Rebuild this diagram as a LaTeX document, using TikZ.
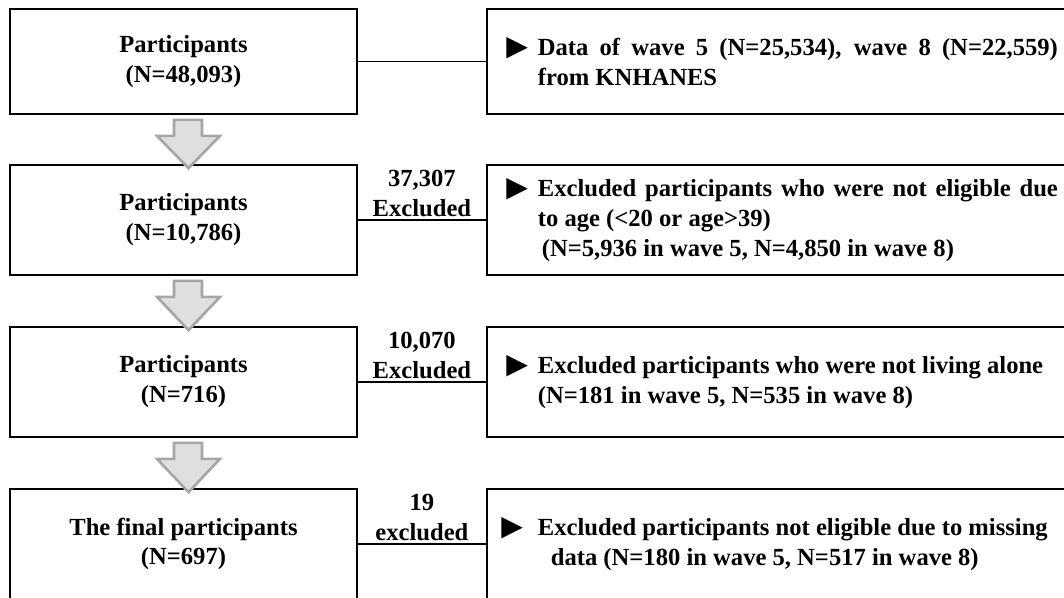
\documentclass[tikz,border=0pt]{standalone}
\usepackage{fontspec}
\setmainfont{Liberation Serif}
\newfontfamily\symfont{DejaVu Sans}
\usetikzlibrary{calc, positioning}

\newcommand\bultri[1]{\leavevmode\llap{{\fontsize{16}{12}\selectfont\symfont ▶}\hspace{#1}}}

\begin{document}
\begin{tikzpicture}[
  txt/.style={font=\fontsize{14}{17}\selectfont\bfseries},
  lbox/.style={txt, draw, line width=1pt, minimum width=6.94cm, minimum height=2.2cm,
               align=center},
  rbox/.style={txt, draw, line width=1pt, anchor=west, minimum height=2.2cm,
               text width=10.4cm, inner xsep=1.02cm, align=justify},
  cnt/.style={txt, align=center, anchor=south, inner sep=1.5pt},
  link/.style={line width=0.9pt},
  bigarrow/.style={fill=gray!25, draw=gray!70, line width=1.5pt},
]
\path[use as bounding box, clip] (0,0) rectangle (21.28,-11.94);
% Participant boxes (left column)
\node[lbox, minimum height=2.1cm] (p1) at (3.67,-1.23)  {Participants\\(N=48,093)};
\node[lbox] (p2) at (3.67,-4.40)  {Participants\\(N=10,786)};
\node[lbox] (p3) at (3.67,-7.64)  {Participants\\(N=716)};
\node[lbox] (p4) at (3.67,-10.88) {The final participants\\(N=697)};
% Detail boxes (right column, cut by the page edge)
\node[rbox, minimum height=2.1cm] (d1) at (9.72,-1.23)
  {\bultri{0.2cm}Data of wave 5 (N=25,534), wave 8 (N=22,559)\linebreak from KNHANES};
\node[rbox] (d2) at (9.72,-4.40)
  {\bultri{0.2cm}Excluded participants who were not eligible due\linebreak to age (<20 or age>39)\\
   \hspace*{0.08cm}(N=5,936 in wave 5, N=4,850 in wave 8)};
\node[rbox] (d3) at (9.72,-7.64)
  {\bultri{0.2cm}Excluded participants who were not living alone\\(N=181 in wave 5, N=535 in wave 8)};
\node[rbox] (d4) at (9.72,-10.88)
  {\bultri{0.3cm}Excluded participants not eligible due to missing\\
   \hspace*{0.26cm}data (N=180 in wave 5, N=517 in wave 8)};
% Links
\foreach \i in {1,...,4} \draw[link] (p\i) -- (d\i);
% Excluded counts
\node[cnt] (e2) at ($(p2.east)!0.5!(d2.west)$) {37,307\\Excluded};
\node[cnt] (e3) at ($(p3.east)!0.5!(d3.west)$) {10,070\\Excluded};
\node[cnt] (e4) at ($(p4.east)!0.5!(d4.west)$) {19\\excluded};
% Block arrows
\foreach \a/\b in {p1/p2, p2/p3, p3/p4}
  \draw[bigarrow] ($(\a.south)+(-0.19,-0.1)$) -- ($(\a.south)+(0.37,-0.1)$)
    -- ($(\a.south)+(0.37,-0.42)$) -- ($(\a.south)+(0.73,-0.42)$)
    -- ($(\b.north)+(0.1,-0.08)$)
    -- ($(\a.south)+(-0.53,-0.42)$) -- ($(\a.south)+(-0.19,-0.42)$) -- cycle;
\end{tikzpicture}
\end{document}
